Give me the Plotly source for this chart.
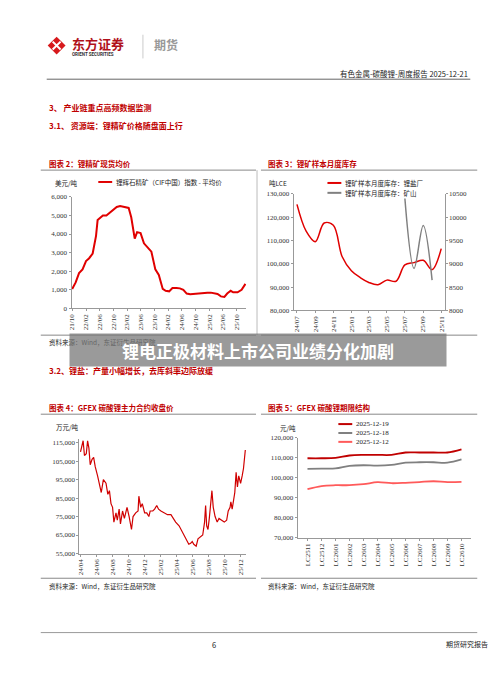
import pandas as pd
import plotly.graph_objects as go

# --- 图表2 锂精矿现货均价 (美元/吨)
spod_dates = ['2021-10-01', '2021-11-01', '2021-12-01', '2022-01-01', '2022-02-01', '2022-03-01',
              '2022-04-01', '2022-05-01', '2022-05-15', '2022-07-01', '2022-08-01', '2022-09-01',
              '2022-10-01', '2022-11-01', '2022-12-01', '2023-01-15', '2023-02-15', '2023-03-10',
              '2023-04-10', '2023-05-01', '2023-06-01', '2023-07-01', '2023-08-01', '2023-09-05',
              '2023-10-10', '2023-11-10', '2023-12-15', '2024-01-10', '2024-02-10', '2024-03-10',
              '2024-04-15', '2024-05-15', '2024-06-15', '2024-07-15', '2024-08-15', '2024-09-15',
              '2024-10-15', '2024-11-15', '2024-12-15', '2025-01-15', '2025-02-15', '2025-03-15',
              '2025-04-15', '2025-05-15', '2025-06-15', '2025-07-10', '2025-08-10', '2025-09-01',
              '2025-10-10', '2025-11-15', '2025-12-19']
spod_price = [1050, 1400, 1900, 2100, 2550, 2700, 2950, 3900, 4750, 5000, 5000, 5150,
              5250, 5450, 5500, 5450, 5400, 4900, 3750, 4100, 4050, 3500, 3300, 3050,
              2100, 1800, 1050, 950, 920, 1100, 1100, 1080, 1000, 800, 760, 780,
              820, 830, 850, 850, 850, 820, 780, 650, 620, 800, 950, 870,
              870, 1000, 1320]

# --- 图表3 锂矿样本月度库存
inv_months = ['2024-07-01', '2024-08-01', '2024-09-01', '2024-10-01', '2024-11-01', '2024-12-01',
              '2025-01-01', '2025-02-01', '2025-03-01', '2025-04-01', '2025-05-01', '2025-06-01',
              '2025-07-01', '2025-08-01', '2025-09-01', '2025-10-01', '2025-11-01']
inv_salt = [125500, 114000, 109500, 117500, 116500, 103000, 97000, 94000, 92000, 91000,
            93000, 92500, 99500, 100500, 101500, 97500, 106500]
inv_mine_months = ['2025-07-01', '2025-08-01', '2025-09-01', '2025-10-01']
inv_mine = [10400, 8900, 9820, 8650]

# --- 图表4 GFEX 碳酸锂主力合约收盘价
gfex_dates = ['2024-04-01', '2024-04-07', '2024-04-11', '2024-04-16', '2024-04-23', '2024-04-28',
              '2024-05-03', '2024-05-08', '2024-05-15', '2024-05-21', '2024-05-27', '2024-06-05',
              '2024-06-12', '2024-06-19', '2024-06-27', '2024-07-07', '2024-07-14', '2024-07-20',
              '2024-07-26', '2024-08-01', '2024-08-06', '2024-08-14', '2024-08-19', '2024-08-26',
              '2024-08-31', '2024-09-08', '2024-09-15', '2024-09-25', '2024-10-03', '2024-10-12',
              '2024-10-18', '2024-10-28', '2024-11-06', '2024-11-09', '2024-11-16', '2024-11-22',
              '2024-12-01', '2024-12-09', '2024-12-17', '2024-12-22', '2025-01-01', '2025-01-08',
              '2025-01-16', '2025-01-23', '2025-02-01', '2025-02-14', '2025-02-26', '2025-03-11',
              '2025-03-19', '2025-03-29', '2025-04-11', '2025-04-23', '2025-05-06', '2025-05-12',
              '2025-05-18', '2025-05-25', '2025-05-31', '2025-06-06', '2025-06-15', '2025-06-22',
              '2025-07-01', '2025-07-10', '2025-07-17', '2025-07-21', '2025-07-25', '2025-07-30',
              '2025-08-04', '2025-08-10', '2025-08-14', '2025-08-19', '2025-08-26', '2025-09-03',
              '2025-09-10', '2025-09-20', '2025-09-30', '2025-10-09', '2025-10-15', '2025-10-22',
              '2025-10-25', '2025-10-30', '2025-11-04', '2025-11-09', '2025-11-14', '2025-11-19',
              '2025-11-24', '2025-12-01', '2025-12-07', '2025-12-12', '2025-12-19']
gfex_close = [110000, 113000, 116000, 108000, 109000, 116000, 112000, 103000, 106000, 107000,
              102000, 97000, 93000, 88000, 95000, 93000, 87000, 89000, 82000, 80000,
              72000, 77000, 73000, 79000, 71000, 78000, 74000, 80000, 75000, 68000,
              75000, 77000, 78000, 86000, 80000, 82000, 77000, 77000, 75000, 78000,
              78000, 79000, 81000, 79000, 78000, 77000, 76000, 76000, 74000, 72000,
              70000, 67000, 63000, 62000, 60000, 60500, 61500, 60000, 59000, 63000,
              64000, 65000, 72000, 81000, 70000, 68000, 74000, 86000, 89000, 80000,
              75000, 72000, 74000, 73000, 72000, 73000, 78000, 80000, 83000, 79000,
              85000, 88000, 99000, 91000, 97000, 93000, 97000, 101000, 111000]

# --- 图表5 GFEX 碳酸锂期限结构
contracts = ['LC2511', 'LC2512', 'LC2601', 'LC2602', 'LC2603', 'LC2604',
             'LC2605', 'LC2606', 'LC2607', 'LC2608', 'LC2609', 'LC2610']
curve_1219 = [109800, 109800, 110000, 111200, 111500, 111500, 111500, 112700, 112700, 112700, 112700, 114300]
curve_1218 = [104500, 104600, 104700, 106000, 106300, 106100, 106500, 107600, 107800, 107800, 107600, 109200]
curve_1212 = [94300, 95900, 96300, 96300, 96800, 97800, 97300, 97500, 97900, 98300, 97900, 98000]

RED = '#c00000'
GREY = '#808080'
SERIF = 'Liberation Serif, Noto Sans CJK SC'
CJK = 'Noto Sans CJK SC'
W, H = 500, 678


def px(x):
    return x / W


def py(y):
    return 1 - y / H


fig = go.Figure()
fig.add_trace(go.Scatter(x=spod_dates, y=spod_price, mode='lines', line=dict(color='#e00000', width=2),
                         xaxis='x', yaxis='y', showlegend=False))
fig.add_trace(go.Scatter(x=inv_months, y=inv_salt, mode='lines', line=dict(color='#e00000', width=1.5, shape='spline'),
                         xaxis='x2', yaxis='y2', showlegend=False))
fig.add_trace(go.Scatter(x=inv_mine_months, y=inv_mine, mode='lines', line=dict(color=GREY, width=1.5, shape='spline'),
                         xaxis='x2', yaxis='y3', showlegend=False))
fig.add_trace(go.Scatter(x=gfex_dates, y=gfex_close, mode='lines', line=dict(color='#d00000', width=1.2),
                         xaxis='x3', yaxis='y4', showlegend=False))
for vals, col in [(curve_1219, RED), (curve_1218, GREY), (curve_1212, '#ff5a5a')]:
    fig.add_trace(go.Scatter(x=contracts, y=vals, mode='lines', line=dict(color=col, width=1.8, shape='spline'),
                             xaxis='x4', yaxis='y5', showlegend=False))

tick = dict(family=SERIF, size=7, color='#333')
ax = dict(showgrid=False, zeroline=False, showline=True, linecolor='#999', linewidth=1,
          ticks='outside', ticklen=2, tickcolor='#999', tickfont=tick)

fig.update_layout(
    width=W, height=H, margin=dict(l=0, r=0, t=0, b=0),
    paper_bgcolor='white', plot_bgcolor='white',
    xaxis=dict(ax, domain=[px(61), px(237)], anchor='y', type='date', range=['2021-09-25', '2025-12-25'],
               tickvals=['2021-10-01', '2022-02-01', '2022-06-01', '2022-10-01', '2023-02-01', '2023-06-01',
                         '2023-10-01', '2024-02-01', '2024-06-01', '2024-10-01', '2025-02-01', '2025-06-01',
                         '2025-10-01'], tickformat='%y/%m', tickangle=-90),
    yaxis=dict(ax, domain=[py(300), py(187)], anchor='x', range=[0, 6000], dtick=1000, tickformat=','),
    xaxis2=dict(ax, domain=[px(285), px(437)], anchor='y2', type='date', range=['2024-06-20', '2025-11-12'],
                tickvals=inv_months[::2], tickformat='%y/%m', tickangle=-90),
    yaxis2=dict(ax, domain=[py(302), py(184)], anchor='x2', range=[80000, 130000], dtick=10000, tickformat=','),
    yaxis3=dict(ax, overlaying='y2', side='right', anchor='x2', range=[8000, 10500], dtick=500, tickformat='d'),
    xaxis3=dict(ax, domain=[px(69), px(237)], anchor='y4', type='date', range=['2024-03-28', '2025-12-22'],
                tickvals=['2024-04-01', '2024-06-01', '2024-08-01', '2024-10-01', '2024-12-01', '2025-02-01',
                          '2025-04-01', '2025-06-01', '2025-08-01', '2025-10-01', '2025-12-01'],
                tickformat='%y/%m', tickangle=-90),
    yaxis4=dict(ax, domain=[py(548), py(432)], anchor='x3', range=[55000, 117000],
                tickvals=[55000, 65000, 75000, 85000, 95000, 105000, 115000], tickformat=','),
    xaxis4=dict(ax, domain=[px(289), px(464)], anchor='y5', type='category', range=[-0.7, 11.7], tickangle=-90),
    yaxis5=dict(ax, domain=[py(532), py(431)], anchor='x4', range=[70000, 120000], dtick=10000, tickformat=','),
)

shapes = []
ann = []


def text(x, y, s, size=8, color='#222', font=CJK, xanchor='left', bold=False, **kw):
    if bold:
        s = '<b>' + s + '</b>'
    ann.append(dict(x=px(x), y=py(y), xref='paper', yref='paper', text=s, showarrow=False,
                    xanchor=xanchor, yanchor='middle', font=dict(size=size, color=color, family=font), **kw))


def hline(x0, x1, y, color='#888', width=1):
    shapes.append(dict(type='line', xref='paper', yref='paper', x0=px(x0), x1=px(x1), y0=py(y), y1=py(y),
                       line=dict(color=color, width=width)))


# header / logo
shapes.append(dict(type='path', xref='paper', yref='paper',
                   path=f'M {px(37)} {py(34)} L {px(46)} {py(25)} L {px(55)} {py(34)} L {px(46)} {py(43)} Z',
                   fillcolor='#d7191c', line=dict(width=0)))
shapes.append(dict(type='path', xref='paper', yref='paper',
                   path=f'M {px(42)} {py(30)} L {px(50)} {py(38)} M {px(50)} {py(30)} L {px(42)} {py(38)}',
                   line=dict(color='white', width=2)))
text(59, 32, '东方证券', size=13, color='#b0111a', bold=True)
text(59, 43, 'ORIENT SECURITIES', size=4.5, color='#333', font='Roboto', bold=True)
shapes.append(dict(type='line', xref='paper', yref='paper', x0=px(133), x1=px(133), y0=py(23), y1=py(47),
                   line=dict(color='#ccc', width=1)))
text(142, 33, '期货', size=12, color='#999', bold=True)
text(463, 62, '有色金属-碳酸锂-周度报告 2025-12-21', size=7.5, xanchor='right')
hline(36, 463, 68, color='#666')
text(36, 97, '3、 产业链重点高频数据监测', size=8, color=RED, bold=True)
text(36, 115, '3.1、 资源端：锂精矿价格随盘面上行', size=8, color=RED, bold=True)
text(36, 363, '3.2、锂盐：产量小幅增长，去库斜率边际放缓', size=8, color=RED, bold=True)

# chart titles
text(36, 153, '图表 2：锂精矿现货均价', size=7.5, color=RED, bold=True)
text(257, 153, '图表 3：锂矿样本月度库存', size=7.5, color=RED, bold=True)
hline(30, 247, 160)
hline(252, 470, 160)
shapes.append(dict(type='line', xref='paper', yref='paper', x0=px(248), x1=px(248), y0=py(160), y1=py(327),
                   line=dict(color='#bbb', width=1)))
hline(30, 247, 327)
hline(252, 470, 327)
text(36, 334, '资料来源：Wind，东证衍生品研究院', size=6.5)

text(36, 400, '图表 4：GFEX 碳酸锂主力合约收盘价', size=7.5, color=RED, bold=True)
text(257, 400, '图表 5：GFEX 碳酸锂期限结构', size=7.5, color=RED, bold=True)
hline(30, 247, 407)
hline(252, 470, 407)
hline(30, 247, 573)
hline(252, 470, 573)
text(36, 581, '资料来源：Wind，东证衍生品研究院', size=6.5)
text(257, 581, '资料来源：Wind，东证衍生品研究院', size=6.5)

# axis units and legends
text(42, 173, '美元/吨', size=6.5)
hline(88, 102, 172, color='#e00000', width=2)
text(104, 172, '锂辉石精矿（CIF中国）指数 - 平均价', size=6.5)
text(258, 173, '吨LCE', size=6.5)
hline(319, 333, 173, color='#e00000', width=2)
text(335, 173, '锂矿样本月度库存：锂盐厂', size=6.5)
hline(319, 333, 183, color=GREY, width=2)
text(335, 183, '锂矿样本月度库存：矿山', size=6.5)
text(43, 420, '万元/吨', size=6.5)
text(269, 421, '元/吨', size=6.5)
for yy, col, lab in [(417, RED, '2025-12-19'), (426, GREY, '2025-12-18'), (435, '#ff5a5a', '2025-12-12')]:
    hline(330, 344, yy, color=col, width=2)
    text(346, yy, lab, size=7, font=SERIF)

# footer
hline(30, 470, 628, color='#999')
text(205, 640, '6', size=7.5, xanchor='center')
text(436, 640, '期货研究报告', size=7)

# overlay banner
ann.append(dict(x=px(249), y=py(342), xref='paper', yref='paper', showarrow=False,
                text='<b>锂电正极材料上市公司业绩分化加剧</b>', width=374, height=30,
                bgcolor='rgba(120,120,120,0.75)', font=dict(size=17, color='white', family=CJK),
                xanchor='center', yanchor='middle'))

fig.update_layout(shapes=shapes, annotations=ann)
fig.write_html('out.html')
